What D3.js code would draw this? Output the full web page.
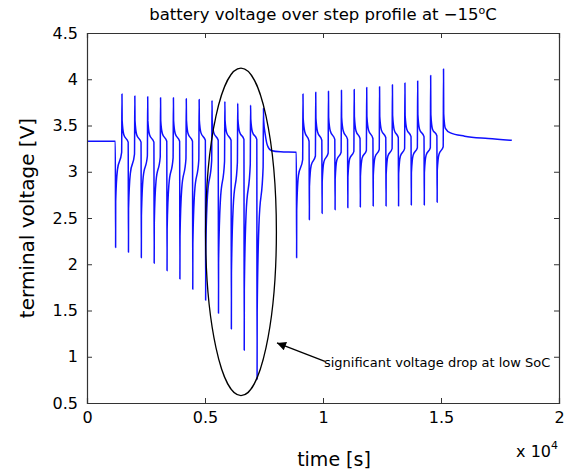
<!DOCTYPE html>
<html>
<head>
<meta charset="utf-8">
<script src="https://cdn.jsdelivr.net/npm/d3@7"></script>
<style>
  body { margin: 0; background: #fff; }
  text { font-family: "DejaVu Sans", "Liberation Sans", Arial, sans-serif; fill: #000; }
</style>
</head>
<body>
<div id="chart"></div>
<script>
// rest before the first pulse block
var startTime = [0];
var startVolt = [3.33];

// first pulse block: one discharge + one charge pulse per cycle (time of the drop in s, voltages in V)
var dropTime1 = [1200, 1745, 2290, 2835, 3380, 3925, 4470, 5015, 5560, 6105, 6650, 7195];
var restVolt1 = [3.33, 3.32, 3.32, 3.32, 3.33, 3.33, 3.33, 3.34, 3.34, 3.34, 3.35, 3.35];
var minVolt1  = [2.18, 2.13, 2.07, 2.01, 1.93, 1.84, 1.73, 1.61, 1.47, 1.30, 1.07, 0.76];
var jumpVolt1 = [2.68, 2.60, 2.52, 2.45, 2.38, 2.30, 2.22, 2.12, 2.02, 1.90, 1.72, 1.48];
var midVolt1  = [3.02, 2.98, 2.94, 2.90, 2.86, 2.82, 2.78, 2.74, 2.68, 2.62, 2.54, 2.42];
var recVolt1  = [3.21, 3.19, 3.17, 3.16, 3.15, 3.14, 3.13, 3.12, 3.11, 3.10, 3.08, 3.05];
var peakVolt1 = [3.84, 3.82, 3.81, 3.80, 3.80, 3.79, 3.78, 3.77, 3.76, 3.74, 3.72, 3.69];
var fallVolt1 = [3.55, 3.55, 3.55, 3.55, 3.55, 3.56, 3.56, 3.56, 3.56, 3.57, 3.57, 3.56];
var kneeVolt1 = [3.40, 3.40, 3.40, 3.41, 3.41, 3.41, 3.42, 3.42, 3.42, 3.43, 3.43, 3.40];

// rest between the two blocks
var midRestTime = [7650, 7800, 8200];
var midRestVolt = [3.28, 3.23, 3.215];

// second pulse block
var dropTime2 = [8870, 9410, 9950, 10500, 11040, 11570, 12115, 12660, 13190, 13730, 14280, 14825];
var restVolt2 = [3.21, 3.33, 3.34, 3.35, 3.35, 3.36, 3.36, 3.37, 3.37, 3.38, 3.38, 3.39];
var minVolt2  = [2.07, 2.48, 2.55, 2.59, 2.61, 2.62, 2.63, 2.63, 2.63, 2.64, 2.64, 2.67];
var jumpVolt2 = [2.58, 2.84, 2.89, 2.92, 2.94, 2.95, 2.96, 2.97, 2.98, 2.99, 2.99, 3.01];
var midVolt2  = [2.96, 3.07, 3.11, 3.13, 3.14, 3.15, 3.16, 3.17, 3.17, 3.18, 3.18, 3.19];
var recVolt2  = [3.13, 3.17, 3.20, 3.21, 3.22, 3.23, 3.24, 3.25, 3.25, 3.26, 3.26, 3.27];
var peakVolt2 = [3.84, 3.86, 3.87, 3.88, 3.89, 3.91, 3.92, 3.94, 3.96, 3.98, 4.04, 4.11];
var fallVolt2 = [3.58, 3.58, 3.59, 3.59, 3.60, 3.60, 3.60, 3.61, 3.61, 3.62, 3.62, 3.63];
var kneeVolt2 = [3.43, 3.43, 3.44, 3.44, 3.44, 3.45, 3.45, 3.45, 3.46, 3.46, 3.46, 3.47];

// relaxation after the last charge pulse
var endTime = [15400, 16000, 17000, 18000];
var endVolt = [3.42, 3.385, 3.36, 3.34];

// seconds after the drop: rest, min, jump back, recovery, before charge, peak, fall, knee
var pulseOffsets = [0, 12, 16, 90, 268, 282, 290, 360];

var xTicks = [0, 5000, 10000, 15000, 20000];
var yTicks = [0.5, 1, 1.5, 2, 2.5, 3, 3.5, 4, 4.5];

// set the dimensions and margins of the graph
var width = 570,
    height = 474,
    margin = {top: 33, right: 11, bottom: 71, left: 87};

var x = d3.scaleLinear().domain([0, 20000]).range([margin.left, width - margin.right]);
var y = d3.scaleLinear().domain([0.5, 4.5]).range([height - margin.bottom, margin.top]);

var svg = d3.select("#chart")
  .append("svg")
    .attr("width", width)
    .attr("height", height);

// build the trace from the arrays above
var points = [];
startTime.forEach(function(t, i) { points.push([t, startVolt[i]]); });

function addBlock(drops, rest, mn, jump, mid, rec, peak, fall, knee) {
  drops.forEach(function(t, i) {
    var v = [rest[i], mn[i], jump[i], mid[i], rec[i], peak[i], fall[i], knee[i]];
    pulseOffsets.forEach(function(o, k) { points.push([t + o, v[k]]); });
  });
}

addBlock(dropTime1, restVolt1, minVolt1, jumpVolt1, midVolt1, recVolt1, peakVolt1, fallVolt1, kneeVolt1);
midRestTime.forEach(function(t, i) { points.push([t, midRestVolt[i]]); });
addBlock(dropTime2, restVolt2, minVolt2, jumpVolt2, midVolt2, recVolt2, peakVolt2, fallVolt2, kneeVolt2);
endTime.forEach(function(t, i) { points.push([t, endVolt[i]]); });

var line = d3.line()
  .x(function(d) { return x(d[0]); })
  .y(function(d) { return y(d[1]); })
  .curve(d3.curveMonotoneX);

svg.append("path")
  .datum(points)
  .attr("d", line)
  .attr("fill", "none")
  .attr("stroke", "#1010ff")
  .attr("stroke-width", 1.5)
  .attr("stroke-linejoin", "round");

// box with inward ticks on all four sides (matlab style)
var axisColor = "#333";
var tickLen = 5;

var gx = svg.append("g")
  .attr("transform", "translate(0," + y(0.5) + ")")
  .call(d3.axisBottom(x).tickValues(xTicks).tickSize(-tickLen).tickPadding(9)
        .tickFormat(function(d) { return d / 10000; }));
var gxTop = svg.append("g")
  .attr("transform", "translate(0," + y(4.5) + ")")
  .call(d3.axisTop(x).tickValues(xTicks).tickSize(-tickLen).tickFormat(""));
var gy = svg.append("g")
  .attr("transform", "translate(" + x(0) + ",0)")
  .call(d3.axisLeft(y).tickValues(yTicks).tickSize(-tickLen).tickPadding(8)
        .tickFormat(function(d) { return d; }));
var gyRight = svg.append("g")
  .attr("transform", "translate(" + x(20000) + ",0)")
  .call(d3.axisRight(y).tickValues(yTicks).tickSize(-tickLen).tickFormat(""));

[gx, gxTop, gy, gyRight].forEach(function(g) {
  g.select(".domain").attr("stroke", axisColor).attr("stroke-width", 1.2);
  g.selectAll(".tick line").attr("stroke", axisColor);
  g.selectAll("text")
    .style("font-family", "'DejaVu Sans', 'Liberation Sans', Arial, sans-serif")
    .style("font-size", "16px")
    .attr("fill", "#000");
});
gx.selectAll("text").attr("dy", "0.71em");
gy.selectAll("text").attr("dx", "-1");

// annotation: ellipse round the deep drops, arrow and note
svg.append("ellipse")
  .attr("cx", x(6525))
  .attr("cy", y(2.35))
  .attr("rx", x(6525 + 1500) - x(6525))
  .attr("ry", y(2.35 - 1.77) - y(2.35))
  .attr("fill", "none")
  .attr("stroke", "#000")
  .attr("stroke-width", 1.3);

svg.append("defs").append("marker")
  .attr("id", "head")
  .attr("viewBox", "0 0 10 10")
  .attr("refX", 10).attr("refY", 5)
  .attr("markerWidth", 13).attr("markerHeight", 9)
  .attr("markerUnits", "userSpaceOnUse")
  .attr("orient", "auto")
  .append("path")
    .attr("d", "M0,0L10,5L0,10Z")
    .attr("fill", "#000");

svg.append("line")
  .attr("x1", x(10080)).attr("y1", y(0.95))
  .attr("x2", x(8050)).attr("y2", y(1.15))
  .attr("stroke", "#000")
  .attr("stroke-width", 1.3)
  .attr("marker-end", "url(#head)");

svg.append("text")
  .attr("x", x(10040))
  .attr("y", y(0.89))
  .style("font-size", "13px")
  .text("significant voltage drop at low SoC");

// title and axis labels
var title = svg.append("text")
  .attr("x", (x(0) + x(20000)) / 2)
  .attr("y", 20)
  .attr("text-anchor", "middle")
  .style("font-size", "16.5px");
title.append("tspan").text("battery voltage over step profile at \u221215");
title.append("tspan").attr("dy", "-6").style("font-size", "11px").text("o");
title.append("tspan").attr("dy", "6").text("C");

svg.append("text")
  .attr("x", 334)
  .attr("y", 466)
  .attr("text-anchor", "middle")
  .style("font-size", "19px")
  .text("time [s]");

svg.append("text")
  .attr("transform", "translate(34," + (y(2.5)) + ") rotate(-90)")
  .attr("text-anchor", "middle")
  .style("font-size", "20px")
  .text("terminal voltage [V]");

var mult = svg.append("text")
  .attr("x", 558)
  .attr("y", 457)
  .attr("text-anchor", "end")
  .style("font-size", "16px");
mult.append("tspan").text("x 10");
mult.append("tspan").attr("dy", "-8").style("font-size", "11px").text("4");
</script>
</body>
</html>
